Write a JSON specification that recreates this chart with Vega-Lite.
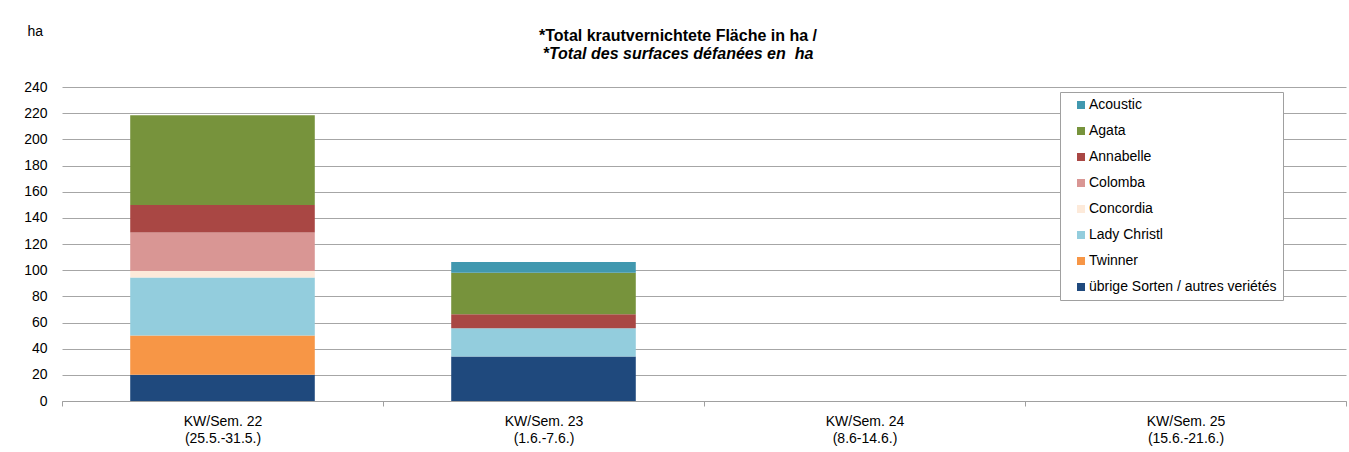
{
  "$schema": "https://vega.github.io/schema/vega-lite/v6.json",
  "autosize": "none",
  "width": 1284,
  "height": 314,
  "padding": {"left": 62, "top": 87, "right": 3, "bottom": 51},
  "background": "white",
  "config": {
    "font": "Liberation Sans",
    "view": {"stroke": null}
  },
  "title": {
    "text": "*Total krautvernichtete Fläche in ha /",
    "subtitle": "*Total des surfaces défanées en \u00a0ha",
    "font": "Liberation Sans",
    "fontSize": 16,
    "fontWeight": "bold",
    "subtitleFont": "Liberation Sans",
    "subtitleFontSize": 16,
    "subtitleFontWeight": "bold",
    "subtitleFontStyle": "italic",
    "subtitleColor": "black",
    "subtitlePadding": 2,
    "color": "black",
    "anchor": "middle",
    "dx": -26,
    "offset": -38
  },
  "data": {
    "values": [
      {"week": "KW/Sem. 22\n(25.5.-31.5.)", "variety": "übrige Sorten / autres veriétés", "ha": 20},
      {"week": "KW/Sem. 22\n(25.5.-31.5.)", "variety": "Twinner", "ha": 30},
      {"week": "KW/Sem. 22\n(25.5.-31.5.)", "variety": "Lady Christl", "ha": 44.3},
      {"week": "KW/Sem. 22\n(25.5.-31.5.)", "variety": "Concordia", "ha": 5},
      {"week": "KW/Sem. 22\n(25.5.-31.5.)", "variety": "Colomba", "ha": 29.5},
      {"week": "KW/Sem. 22\n(25.5.-31.5.)", "variety": "Annabelle", "ha": 21},
      {"week": "KW/Sem. 22\n(25.5.-31.5.)", "variety": "Agata", "ha": 68.6},
      {"week": "KW/Sem. 23\n(1.6.-7.6.)", "variety": "übrige Sorten / autres veriétés", "ha": 34},
      {"week": "KW/Sem. 23\n(1.6.-7.6.)", "variety": "Lady Christl", "ha": 21.6},
      {"week": "KW/Sem. 23\n(1.6.-7.6.)", "variety": "Annabelle", "ha": 10.7},
      {"week": "KW/Sem. 23\n(1.6.-7.6.)", "variety": "Agata", "ha": 31.8},
      {"week": "KW/Sem. 23\n(1.6.-7.6.)", "variety": "Acoustic", "ha": 8.2}
    ]
  },
  "mark": {"type": "bar", "width": {"band": 0.575}},
  "encoding": {
    "x": {
      "field": "week",
      "type": "nominal",
      "scale": {
        "domain": ["KW/Sem. 22\n(25.5.-31.5.)", "KW/Sem. 23\n(1.6.-7.6.)", "KW/Sem. 24\n(8.6-14.6.)", "KW/Sem. 25\n(15.6.-21.6.)"],
        "paddingInner": 0,
        "paddingOuter": 0
      },
      "axis": {
        "title": null,
        "labelAngle": 0,
        "labelExpr": "split(datum.label, '\\n')",
        "labelFont": "Liberation Sans",
        "labelFontSize": 14,
        "labelColor": "black",
        "labelLineHeight": 17,
        "labelPadding": 8,
        "domainColor": "#a0a0a0",
        "tickColor": "#a0a0a0",
        "tickBand": "extent",
        "tickSize": 5,
        "grid": false
      }
    },
    "y": {
      "field": "ha",
      "type": "quantitative",
      "aggregate": "sum",
      "scale": {"domain": [0, 240]},
      "axis": {
        "values": [0, 20, 40, 60, 80, 100, 120, 140, 160, 180, 200, 220, 240],
        "title": "ha",
        "titleAngle": 0,
        "titleAlign": "left",
        "titleBaseline": "top",
        "titleX": -35,
        "titleY": -63,
        "titleFont": "Liberation Sans",
        "titleFontSize": 14,
        "titleFontWeight": "normal",
        "titleColor": "black",
        "labelFont": "Liberation Sans",
        "labelFontSize": 14,
        "labelColor": "black",
        "labelPadding": 15,
        "ticks": false,
        "domain": false,
        "gridColor": "#a6a6a6",
        "gridWidth": 1
      }
    },
    "color": {
      "field": "variety",
      "type": "nominal",
      "scale": {
        "domain": ["Acoustic", "Agata", "Annabelle", "Colomba", "Concordia", "Lady Christl", "Twinner", "übrige Sorten / autres veriétés"],
        "range": ["#4198AF", "#77933C", "#A94744", "#D99694", "#FDEADA", "#93CDDD", "#F79646", "#1F497D"]
      },
      "legend": {
        "title": null,
        "orient": "none",
        "legendX": 998,
        "legendY": 5,
        "padding": 6,
        "symbolOffset": 8,
        "strokeColor": "#a0a0a0",
        "fillColor": "white",
        "symbolType": "square",
        "symbolSize": 64,
        "symbolStrokeWidth": 0,
        "labelFont": "Liberation Sans",
        "labelFontSize": 14,
        "labelColor": "black",
        "labelOffset": 1,
        "rowPadding": 12,
        "labelLimit": 400
      }
    },
    "order": {"field": "variety", "sort": "descending"}
  }
}
